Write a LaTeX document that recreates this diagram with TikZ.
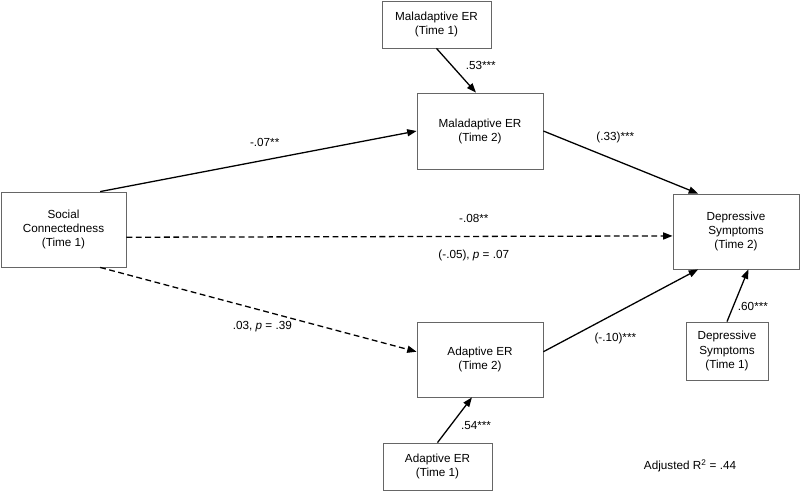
\documentclass[tikz,border=0pt]{standalone}
\usepackage{fontspec}
\setmainfont{Liberation Sans}
\usetikzlibrary{arrows.meta}

\begin{document}
\begin{tikzpicture}[x=0.03cm, y=-0.03cm, every node/.style={font=\fontsize{10}{12}\selectfont},
    var/.style={draw=black!60, line width=0.7pt, rectangle, align=center},
    arr/.style={-{Triangle[length=8pt,width=6pt]}, line width=1.1pt},
    darr/.style={arr, dash pattern=on 5pt off 3pt}]
        \useasboundingbox (0,0) rectangle (800,491);
        % Variables
        \node[var, minimum width=3.27cm, minimum height=1.41cm] (malone) at (436.5,24.5) {Maladaptive ER\\(Time 1)};
        \node[var, minimum width=3.78cm, minimum height=2.28cm] (maltwo) at (480,131) {Maladaptive ER\\(Time 2)};
        \node[var, minimum width=3.75cm, minimum height=2.25cm] (social) at (63.5,229.5) {Social\\Connectedness\\(Time 1)};
        \node[var, minimum width=3.78cm, minimum height=2.25cm] (deptwo) at (736,231.5) {Depressive\\Symptoms\\(Time 2)};
        \node[var, minimum width=2.46cm, minimum height=1.74cm] (depone) at (727,351) {Depressive\\Symptoms\\(Time 1)};
        \node[var, minimum width=3.78cm, minimum height=2.25cm] (adatwo) at (480,359.5) {Adaptive ER\\(Time 2)};
        \node[var, minimum width=3.27cm, minimum height=1.41cm] (adaone) at (437.5,466.5) {Adaptive ER\\(Time 1)};
        \node (rsq) at (690,466) {Adjusted R\textsuperscript{2} = .44};
        % Paths
        \draw[arr] (malone.south) -- (maltwo.96) node[pos=.38, xshift=25pt] {.53***};
        \draw[arr] (social.46) -- (maltwo.west) node[pos=.52, yshift=15pt] {-.07**};
        \draw[darr] (social.-7) -- (deptwo.184) node[pos=.636, yshift=15.5pt] {-.08**}
            node[pos=.636, yshift=-16pt] {(-.05), \textit{p} = .07};
        \draw[darr] (social.-46) -- (adatwo.173) node[pos=.52, yshift=-13pt, xshift=-2pt] {.03, \textit{p} = .39};
        \draw[arr] (maltwo.east) -- (deptwo.135) node[pos=.465, yshift=19pt] {(.33)***};
        \draw[arr] (adatwo.7) -- (deptwo.225) node[pos=.465, yshift=-21pt] {(-.10)***};
        \draw[arr] (depone.north) -- (deptwo.-72) node[pos=.283, xshift=17pt] {.60***};
        \draw[arr] (adaone.north) -- (adatwo.-102) node[pos=.37, xshift=22pt] {.54***};
    \end{tikzpicture}
\end{document}
